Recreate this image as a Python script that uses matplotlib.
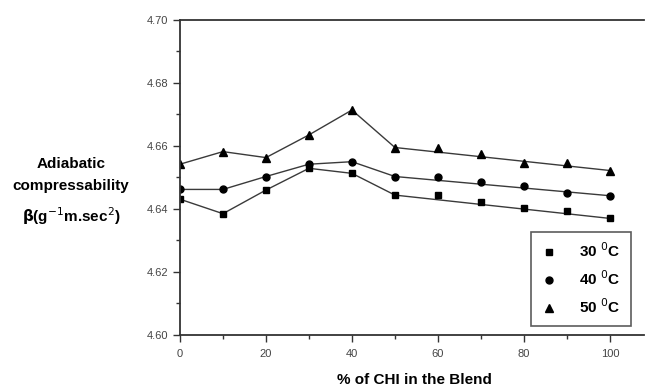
import matplotlib
matplotlib.use('Agg')
import matplotlib.pyplot as plt
from matplotlib.ticker import MultipleLocator

plt.rcParams['font.family'] = ['Liberation Sans', 'DejaVu Sans']

chi = [0, 10, 20, 30, 40, 50, 60, 70, 80, 90, 100]
t30 = [4.6431, 4.6385, 4.6460, 4.6529, 4.6513, 4.6444, 4.6444, 4.6423, 4.6402, 4.6392, 4.6370]
t40 = [4.6462, 4.6462, 4.6503, 4.6542, 4.6550, 4.6503, 4.6503, 4.6484, 4.6473, 4.6452, 4.6442]
t50 = [4.6542, 4.6582, 4.6563, 4.6635, 4.6714, 4.6595, 4.6593, 4.6575, 4.6545, 4.6545, 4.6522]
labels = ['30 $^0$C', '40 $^0$C', '50 $^0$C']
markers = ['s', 'o', '^']
msizes = [4.5, 5, 6]

fig = plt.figure(figsize=(6.45, 3.9), dpi=100)
ax = fig.add_axes([0.279, 0.141, 0.72, 0.808])

for ys, lab, m, ms in zip([t30, t40, t50], labels, markers, msizes):
    # joined points up to 50 %, then a straight run to 100 %
    lx = chi[:6] + [chi[-1]]
    ly = ys[:6] + [ys[-1]]
    ax.plot(lx, ly, color='#3a3a3a', lw=1.0)
    ax.plot(chi, ys, ls='none', marker=m, ms=ms, color='black', label=lab)

ax.set_xlim(0, 108)
ax.set_ylim(4.60, 4.70)
ax.xaxis.set_major_locator(MultipleLocator(20))
ax.xaxis.set_minor_locator(MultipleLocator(10))
ax.yaxis.set_major_locator(MultipleLocator(0.02))
ax.yaxis.set_minor_locator(MultipleLocator(0.01))
ax.yaxis.set_major_formatter(matplotlib.ticker.FormatStrFormatter('%.2f'))
ax.spines['right'].set_visible(False)
for s in ['left', 'bottom', 'top']:
    ax.spines[s].set_linewidth(1.3)
    ax.spines[s].set_color('#333333')
ax.tick_params(which='major', length=5, width=1, labelsize=8, colors='#333333', labelcolor='#444444')
ax.tick_params(which='minor', length=3, width=1, colors='#333333')
ax.tick_params(axis='x', pad=5)

leg = ax.legend(loc='lower right', bbox_to_anchor=(0.99, 0.0), frameon=True, fancybox=False,
                prop={'weight': 'bold', 'size': 11}, handletextpad=1.5, borderpad=0.65,
                labelspacing=0.6, handlelength=1.0, borderaxespad=0.6)
leg.get_frame().set_edgecolor('#333333')
leg.get_frame().set_linewidth(1.2)

fig.text(0.642, 0.025, '% of CHI in the Blend', ha='center', va='center',
         fontsize=11, fontweight='bold')
fig.text(0.11, 0.508, 'Adiabatic\ncompressability\n$\\mathbf{\\beta}$(g$^{-1}$m.sec$^{2}$)',
         ha='center', va='center', fontsize=11, fontweight='bold', linespacing=1.75)

fig.savefig('out.png', dpi=100)
